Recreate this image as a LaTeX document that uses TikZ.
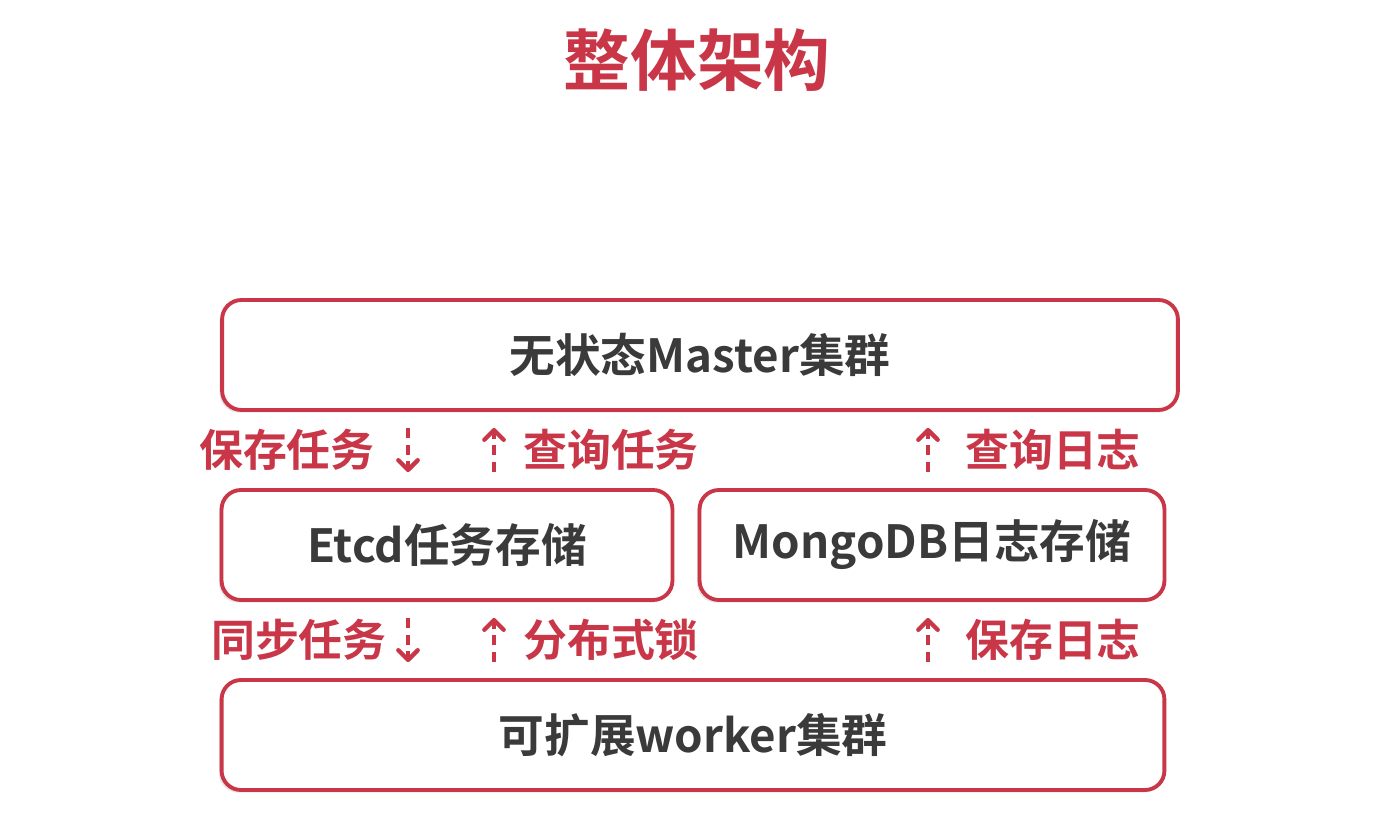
\documentclass[tikz,border=0pt]{standalone}
\usepackage{fontspec}
\usepackage{tikz}
\usetikzlibrary{arrows.meta,shadows}
\newfontfamily\cjk{Noto Sans CJK SC}[BoldFont={* Bold}]
\definecolor{boxred}{RGB}{200,54,72}
\definecolor{boxtext}{RGB}{58,58,58}
\tikzset{
  red box/.style={
    draw=boxred,
    line width=2.2pt,
    rounded corners=11pt,
    fill=white,
    drop shadow={shadow xshift=-1.5pt,shadow yshift=-1.5pt,opacity=0.2},
    minimum width={#1},
    minimum height={2.2cm},
    font=\cjk\bfseries\fontsize{26}{30}\selectfont,
    text=boxtext,
  },
  tag/.style={
    font=\cjk\bfseries\fontsize{25}{29}\selectfont,
    text=boxred,
  },
  flow/.style={
    draw=boxred,
    line width=2.5pt,
    dash pattern=on 6pt off 3.5pt,
    -{Straight Barb[length=5.5pt,width=11pt,line cap=round,line join=round]},
    shorten <=0.32cm,
    shorten >=0.32cm,
  }
}
\begin{document}
\begin{tikzpicture}[x=0.02cm,y=-0.02cm]
        \useasboundingbox (0,0) rectangle (1375,824);
        \node [font=\cjk\bfseries\fontsize{38}{42}\selectfont, text=boxred] (title) at (697,60) {整体架构};

        \node [red box=19.12cm] (master) at (700,355) {无状态Master集群};
        \node [red box=9.02cm] (etcd) at (447,545) {Etcd任务存储};
        \node [red box=9.3cm] (mongo) at (932,545) {MongoDB日志存储};
        \node [red box=18.86cm] (worker) at (693,735) {可扩展worker集群};

        \coordinate (down) at (408,0);
        \coordinate (up) at (494,0);
        \coordinate (log) at (928,0);

        % master <-> etcd / mongo
        \draw [flow] (master.south -| down) -- (etcd.north -| down);
        \draw [flow] (etcd.north -| up) -- (master.south -| up);
        \draw [flow] (mongo.north -| log) -- (master.south -| log);
        \node [tag, anchor=east] (save task) at (381,450) {保存任务};
        \node [tag, anchor=west] (query task) at (517,450) {查询任务};
        \node [tag, anchor=west] (query log) at (959,450) {查询日志};

        % etcd / mongo <-> worker
        \draw [flow] (etcd.south -| down) -- (worker.north -| down);
        \draw [flow] (worker.north -| up) -- (etcd.south -| up);
        \draw [flow] (worker.north -| log) -- (mongo.south -| log);
        \node [tag, anchor=east] (sync task) at (393,640) {同步任务};
        \node [tag, anchor=west] (lock) at (517,640) {分布式锁};
        \node [tag, anchor=west] (save log) at (959,640) {保存日志};
\end{tikzpicture}
\end{document}
